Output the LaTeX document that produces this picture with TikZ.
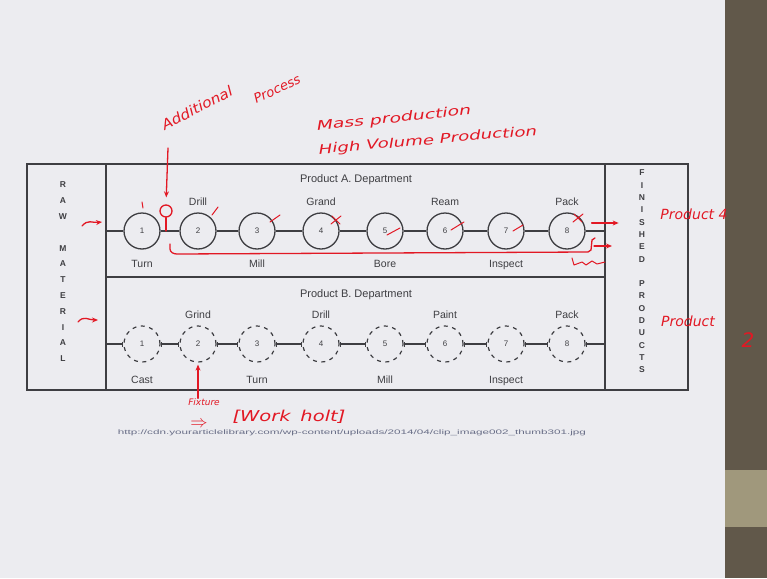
\documentclass[tikz,border=0pt]{standalone}
\usepackage{fontspec}
\setmainfont{Liberation Sans}
\newfontfamily\handfont{DejaVu Sans}
\usetikzlibrary{arrows.meta, positioning, calc}
\definecolor{slidegray}{RGB}{236,236,240}
\definecolor{inkgray}{RGB}{62,62,66}
\definecolor{urlgray}{RGB}{105,110,135}
\definecolor{penred}{RGB}{226,24,36}
\definecolor{barbrown}{RGB}{97,88,74}
\definecolor{barlight}{RGB}{160,152,124}
\tikzset{
  station/.style={
    circle, draw=inkgray, line width=1.3pt,
    minimum size=36pt, inner sep=0pt,
    text=inkgray, font=\fontsize{8}{9}\selectfont
  },
  dstation/.style={station, dash pattern=on 4pt off 4.5pt, line width=1.2pt},
  oplabel/.style={text=inkgray, font=\fontsize{10.5}{12}\selectfont},
  dept/.style={text=inkgray, font=\fontsize{11}{13}\selectfont},
  sideletter/.style={text=inkgray, inner sep=0pt, font=\bfseries\fontsize{8.5}{9}\selectfont},
  frame/.style={draw=inkgray, line width=1.3pt},
  link/.style={draw=inkgray, line width=1.2pt},
  dlink/.style={link, {Bar[width=5pt]}-{Bar[width=5pt]}},
  ink/.style={text=penred, inner sep=0pt, font=\handfont\itshape\fontsize{13}{15}\selectfont},
  pen/.style={draw=penred, line width=1.3pt, line cap=round, line join=round},
  penarrow/.style={pen, -{Stealth[length=6pt,width=5pt]}},
}

\begin{document}
\begin{tikzpicture}[x=1pt, y=-1pt]
  % slide and screen edge
  \useasboundingbox (0,0) rectangle (767,578);
  \fill[slidegray] (0,0) rectangle (725,578);
  \fill[barbrown] (725,0) rectangle (767,578);
  \fill[barlight] (725,470) rectangle (767,527);

  % frame
  \draw[frame] (27,164) rectangle (688,390);
  \draw[frame] (106,164) -- (106,390);
  \draw[frame] (605,164) -- (605,390);
  \draw[frame] (106,277) -- (605,277);

  % stations
  \foreach \n/\xx in {1/142,2/198,3/257,4/321,5/385,6/445,7/506,8/567} {
    \node (a\n) [station]  at (\xx,231) {\n};
    \node (b\n) [dstation] at (\xx,344) {\n};
  }
  \foreach \i [count=\j from 2] in {1,...,7} {
    \draw[link]  (a\i) -- (a\j);
    \draw[dlink] (b\i) -- (b\j);
  }
  \coordinate (ain)  at (106,231);
  \coordinate (aout) at (605,231);
  \coordinate (bin)  at (106,344);
  \coordinate (bout) at (605,344);
  \draw[link] (ain) -- (a1);
  \draw[link] (a8) -- (aout);
  \draw[link, -{Bar[width=5pt]}] (bin) -- (b1);
  \draw[link, {Bar[width=5pt]}-] (b8) -- (bout);

  \node (depta) [dept] at (356,180) {Product A. Department};
  \node (deptb) [dept] at (356,295) {Product B. Department};

  \node (turna)  [oplabel, below=7pt of a1] {Turn};
  \node (drilla) [oplabel, above=3pt of a2] {Drill};
  \node (milla)  [oplabel, below=7pt of a3] {Mill};
  \node (granda) [oplabel, above=3pt of a4] {Grand};
  \node (borea)  [oplabel, below=7pt of a5] {Bore};
  \node (reama)  [oplabel, above=3pt of a6] {Ream};
  \node (inspa)  [oplabel, below=7pt of a7] {Inspect};
  \node (packa)  [oplabel, above=3pt of a8] {Pack};

  \node (castb)  [oplabel, below=10pt of b1] {Cast};
  \node (grindb) [oplabel, above=3pt of b2] {Grind};
  \node (turnb)  [oplabel, below=10pt of b3] {Turn};
  \node (drillb) [oplabel, above=3pt of b4] {Drill};
  \node (millb)  [oplabel, below=10pt of b5] {Mill};
  \node (paintb) [oplabel, above=3pt of b6] {Paint};
  \node (inspb)  [oplabel, below=10pt of b7] {Inspect};
  \node (packb)  [oplabel, above=3pt of b8] {Pack};

  % side columns
  \foreach \c [count=\k from 0] in {R,A,W,,M,A,T,E,R,I,A,L}
    \node (raw\k) [sideletter] at (63,185+15.8*\k) {\c};
  \foreach \c [count=\k from 0] in {F,I,N,I,S,H,E,D,,P,R,O,D,U,C,T,S}
    \node (fin\k) [sideletter] at (642,173+12.3*\k) {\c};

  \node (url) [text=urlgray, font=\fontsize{6.5}{7}\selectfont] at (352,433)
    {\scalebox{1.8}[1]{http://cdn.yourarticlelibrary.com/wp-content/uploads/2014/04/clip\_image002\_thumb301.jpg}};

  % pen notes
  \node (addl) [ink, rotate=27, font=\handfont\itshape\fontsize{14}{16}\selectfont] at (197,108) {\scalebox{1.1}[1]{Additional}};
  \node (proc) [ink, rotate=25, font=\handfont\itshape\fontsize{13}{15}\selectfont] at (277,89) {Process};
  \node (mass) [ink, rotate=6] at (394,119) {\scalebox{1.45}[1]{Mass production}};
  \node (highvol) [ink, rotate=5] at (428,141) {\scalebox{1.4}[1]{High Volume Production}};
  \node (prod4) [ink, font=\handfont\itshape\fontsize{14}{16}\selectfont] at (694,214) {Product 4};
  \node (prod2) [ink, font=\handfont\itshape\fontsize{14}{16}\selectfont] at (688,321) {Product};
  \node (two) [ink, font=\handfont\itshape\fontsize{20}{22}\selectfont] at (748,340) {2};
  \node (fixt) [ink, font=\handfont\itshape\fontsize{9}{10}\selectfont] at (204,402) {Fixture};
  \node (impl) [text=penred, inner sep=0pt, font=\fontsize{17}{18}\selectfont] at (199,424) {$\Rightarrow$};
  \node (wkhold) [ink, font=\handfont\itshape\fontsize{15}{17}\selectfont] at (289,417) {\scalebox{1.3}[1]{[Work\enspace holt]}};

  \node (xproc) [pen, circle, draw, minimum size=12pt, inner sep=0pt] at (166,211) {};
  \coordinate (addtail) at (168,148);
  \draw[penarrow, shorten >=7pt] (addtail) -- (xproc.north);
  \draw[pen] (xproc.south) -- (xproc.south |- a1);

  \foreach \n/\dx/\dy/\ex/\ey in {1/0/-29/1/-23, 2/14/-16/20/-24, 3/13/-9/23/-16, 5/2/4/15/-3, 6/6/-1/19/-9, 7/7/0/17/-6}
    \draw[pen, line width=1pt] ([shift={(\dx,\dy)}]a\n.center) -- ([shift={(\ex,\ey)}]a\n.center);
  \foreach \n/\dx/\dy in {4/15/-11, 8/11/-13} {
    \draw[pen, line width=1pt] ([shift={(\dx-5,\dy+4)}]a\n.center) -- ([shift={(\dx+5,\dy-4)}]a\n.center);
    \draw[pen, line width=1pt] ([shift={(\dx-4,\dy-4)}]a\n.center) -- ([shift={(\dx+4,\dy+4)}]a\n.center);
  }

  \coordinate (bystart) at (170,244);
  \coordinate (byend) at (592,240);
  \draw[pen] (bystart) -- (170,249) to[out=-90,in=180] (177,254) -- (588,252) -- (591,250) -- (byend) -- (595,238);
  \draw[penarrow] ([shift={(2,6)}]byend) -- ++(18,0);
  \draw[pen, line width=1pt] (572,258) -- (574,265) -- (582,262) -- (586,265) -- (592,261) -- (597,264) -- (605,262);
  \draw[penarrow] ([shift={(6,-8)}]a8.east) -- ++(27,0);

  \coordinate (rawa) at (82,226);
  \coordinate (rawb) at (78,322);
  \draw[penarrow] (rawa) .. controls (88,219) and (92,223) .. (102,222);
  \draw[penarrow] (rawb) .. controls (84,315) and (88,320) .. (98,320);

  \draw[penarrow] (fixt.north -| b2.south) -- ([yshift=-2pt]b2.south);
\end{tikzpicture}
\end{document}
